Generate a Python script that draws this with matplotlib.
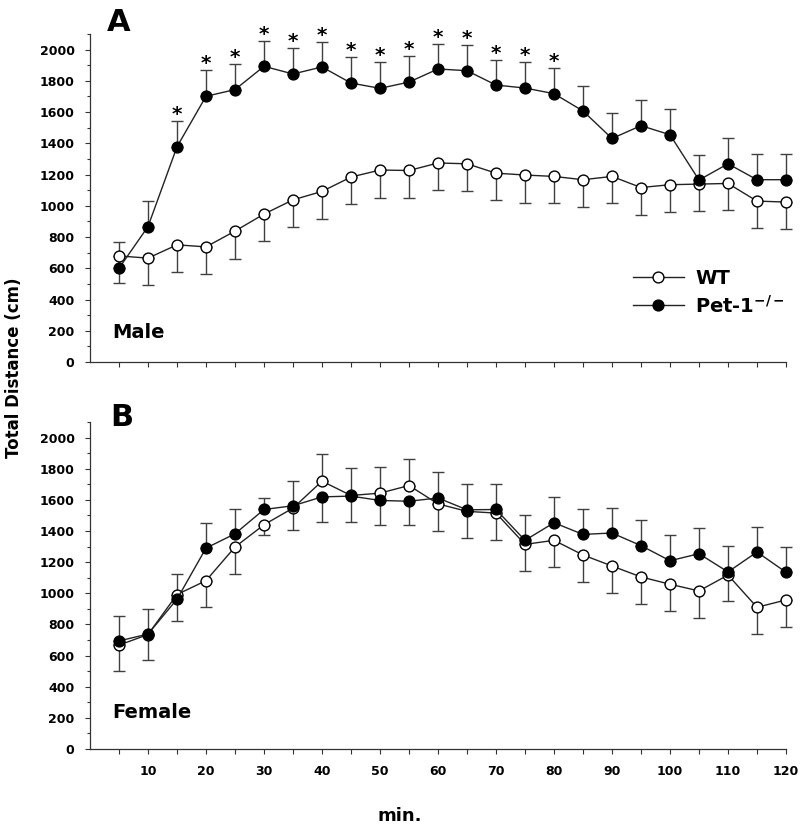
import numpy as np
import matplotlib.pyplot as plt
from matplotlib.ticker import MultipleLocator

plt.rcParams['font.family'] = ['DejaVu Sans']
plt.rcParams['font.weight'] = 'bold'
plt.rcParams['mathtext.default'] = 'bf'

minutes = np.arange(5, 125, 5)

# panel A - male
wt_male = [679, 665, 750, 737, 838, 947, 1038, 1092, 1184, 1229, 1226, 1274,
           1269, 1209, 1197, 1188, 1167, 1188, 1117, 1135, 1139, 1143, 1030, 1024]
wt_male_err = [174, 174, 173, 173, 176, 173, 173, 175, 173, 176, 173, 176,
               175, 173, 176, 171, 175, 173, 173, 173, 173, 173, 173, 174]
pet_male = [600, 867, 1378, 1701, 1744, 1893, 1844, 1889, 1786, 1752, 1792, 1876,
            1865, 1773, 1754, 1718, 1607, 1431, 1513, 1455, 1165, 1269, 1167, 1167]
pet_male_err = [165, 165, 165, 167, 166, 165, 167, 162, 165, 167, 166, 162,
                163, 163, 167, 164, 162, 163, 164, 167, 162, 165, 164, 164]
# 1 = Pet-1 bar drawn upward (WT bar downward), 0 = the other way round
pet_up_male = [1, 1, 1, 1, 1, 1, 1, 1, 1, 1, 1, 1,
               1, 1, 1, 1, 1, 1, 1, 1, 1, 1, 1, 1]
star_minutes = [15, 20, 25, 30, 35, 40, 45, 50, 55, 60, 65, 70, 75, 80]

# panel B - female
wt_female = [667, 735, 992, 1081, 1297, 1440, 1547, 1720, 1628, 1643, 1692, 1574,
             1526, 1515, 1314, 1340, 1246, 1175, 1105, 1058, 1015, 1117, 910, 957]
wt_female_err = [165, 166, 132, 171, 171, 64, 143, 175, 175, 169, 169, 172,
                 169, 171, 171, 171, 173, 171, 171, 171, 171, 168, 173, 171]
pet_female = [694, 738, 962, 1290, 1382, 1538, 1562, 1619, 1624, 1596, 1591, 1612,
              1536, 1538, 1340, 1453, 1378, 1387, 1306, 1209, 1254, 1137, 1265, 1135]
pet_female_err = [159, 161, 141, 161, 161, 73, 160, 162, 165, 156, 153, 164,
                  165, 163, 164, 164, 162, 162, 162, 163, 165, 164, 160, 164]
pet_up_female = [1, 1, 0, 1, 1, 1, 1, 0, 0, 0, 0, 1,
                 1, 1, 1, 1, 1, 1, 1, 1, 1, 1, 1, 1]


def draw_panel(ax, wt, wt_err, pet, pet_err, pet_up):
    wt = np.array(wt)
    pet = np.array(pet)
    wt_err = np.array(wt_err)
    pet_err = np.array(pet_err)
    up = np.array(pet_up, dtype=bool)
    ebar = dict(fmt='none', ecolor='#404040', elinewidth=1, capsize=4,
                capthick=1, zorder=1, clip_on=False)
    ax.errorbar(minutes, pet, yerr=[np.where(up, 0, pet_err), np.where(up, pet_err, 0)], **ebar)
    ax.errorbar(minutes, wt, yerr=[np.where(up, wt_err, 0), np.where(up, 0, wt_err)], **ebar)
    ax.plot(minutes, wt, '-o', color='#222222', mfc='white', mec='black',
            ms=7.8, lw=1, mew=1, zorder=2, clip_on=False, label='WT')
    ax.plot(minutes, pet, '-o', color='#222222', mfc='black', mec='black',
            ms=7.8, lw=1, mew=1, zorder=3, clip_on=False, label=r'Pet-1$^{-/-}$')
    return pet + np.where(up, pet_err, 0)


def style_axis(ax, show_labels):
    ax.set_xlim(0, 120)
    ax.set_ylim(0, 2100)
    ax.spines[['top', 'right']].set_visible(False)
    for s in ('left', 'bottom'):
        ax.spines[s].set_linewidth(0.9)
        ax.spines[s].set_color('#333333')
    ax.set_xticks(minutes)
    if show_labels:
        ax.set_xticklabels([str(m) if m % 10 == 0 else '' for m in minutes])
    else:
        ax.set_xticklabels([])
    ax.set_yticks(range(0, 2001, 200))
    ax.yaxis.set_minor_locator(MultipleLocator(100))
    ax.tick_params(which='major', direction='out', length=3.6, width=0.8,
                   color='#333333', labelsize=9)
    ax.tick_params(which='minor', direction='out', length=2.2, width=0.8, color='#333333')
    ax.tick_params(axis='y', pad=7.5)
    ax.tick_params(axis='x', pad=8)


fig = plt.figure(figsize=(8.0, 8.31), dpi=100)
ax_a = fig.add_axes([0.1125, 0.5644, 0.87, 0.3947])
ax_b = fig.add_axes([0.1125, 0.0987, 0.87, 0.3935])

tops = draw_panel(ax_a, wt_male, wt_male_err, pet_male, pet_male_err, pet_up_male)
for m, top in zip(minutes, tops):
    if m in star_minutes:
        ax_a.text(m, top + 5, '*', ha='center', va='baseline', fontsize=14.5,
                  fontweight='bold')
style_axis(ax_a, False)
ax_a.text(0.032, 0.073, 'Male', transform=ax_a.transAxes, fontsize=14,
          fontweight='bold', va='baseline')
ax_a.legend(loc='center left', bbox_to_anchor=(0.769, 0.212), frameon=False,
            fontsize=14, handlelength=2.6, handletextpad=0.6, labelspacing=0.35,
            borderaxespad=0)

draw_panel(ax_b, wt_female, wt_female_err, pet_female, pet_female_err, pet_up_female)
style_axis(ax_b, True)
ax_b.text(0.032, 0.095, 'Female', transform=ax_b.transAxes, fontsize=14,
          fontweight='bold', va='baseline')

fig.text(0.134, 0.9627, 'A', fontsize=22, fontweight='bold', va='baseline')
fig.text(0.1375, 0.4874, 'B', fontsize=22, fontweight='bold', va='baseline')
fig.text(0.017, 1 - 368 / 831, 'Total Distance (cm)', rotation=90, ha='center',
         va='center', fontsize=12, fontweight='bold')
fig.text(0.5, 0.012, 'min.', ha='center', va='baseline', fontsize=13,
         fontweight='bold')

fig.savefig('out.png', dpi=100)
